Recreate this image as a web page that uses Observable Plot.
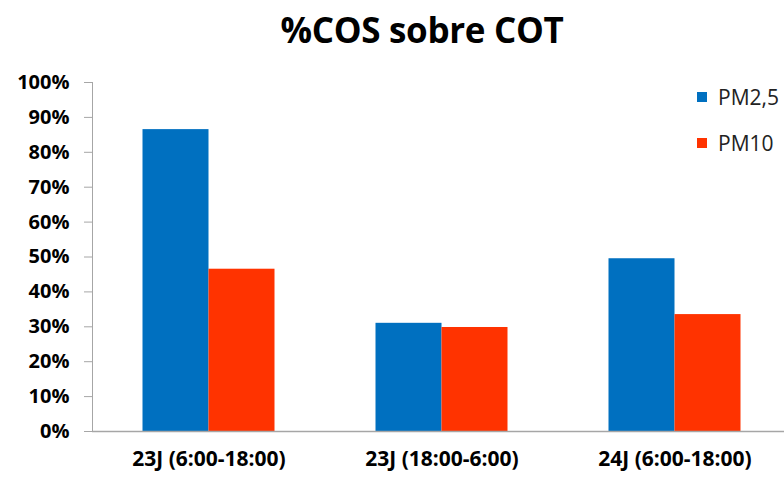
<!DOCTYPE html>
<html>
<head>
<meta charset="utf-8">
<script src="https://cdn.jsdelivr.net/npm/d3@7"></script>
<script src="https://cdn.jsdelivr.net/npm/@observablehq/plot@0.6"></script>
<style>
  body { margin: 0; background: #fff; font-family: "Open Sans", sans-serif; }
  #wrap { position: relative; width: 784px; height: 479px; overflow: hidden; }
  #title { height: 60px; box-sizing: border-box; padding-left: 60px; text-align: center;
           font-weight: bold; font-size: 35px; line-height: 60px; color: #000; letter-spacing: -0.3px; }
  .leg { position: absolute; left: 697px; display: flex; align-items: center; font-size: 21px; color: #222; }
  .sw { width: 10px; height: 10px; margin-right: 11px; }
</style>
</head>
<body>
<div id="wrap">
  <div id="title">%COS sobre COT</div>
  <div id="chart"></div>
  <div id="legend"></div>
</div>
<script>
const categories = ["23J (6:00-18:00)", "23J (18:00-6:00)", "24J (6:00-18:00)"];
const series = ["PM2,5", "PM10"];
const colors = ["#0070C0", "#FF3300"];
const pm25 = [0.865, 0.31, 0.495];
const pm10 = [0.465, 0.298, 0.335];
const yTicks = [0, 0.1, 0.2, 0.3, 0.4, 0.5, 0.6, 0.7, 0.8, 0.9, 1.0];

const d25 = categories.map((c, i) => ({cat: c, series: series[0], value: pm25[i]}));
const d10 = categories.map((c, i) => ({cat: c, series: series[1], value: pm10[i]}));

const chart = Plot.plot({
  width: 784,
  height: 419,
  marginTop: 22,
  marginBottom: 48,
  marginLeft: 92,
  marginRight: 0,
  style: {fontFamily: "'Open Sans', sans-serif", background: "#fff", overflow: "visible"},
  x: {domain: categories, range: [92, 791], padding: 0, label: null},
  y: {domain: [0, 1], label: null},
  color: {domain: series, range: colors},
  marks: [
    Plot.barY(d25, {x: "cat", y: "value", fill: "series", insetLeft: 50.5, insetRight: 116.5}),
    Plot.barY(d10, {x: "cat", y: "value", fill: "series", insetLeft: 116.5, insetRight: 50.5}),
    Plot.ruleY([0], {stroke: "#a6a6a6", strokeWidth: 1.5}),
    Plot.frame({anchor: "left", stroke: "#a6a6a6"}),
    Plot.axisY({ticks: yTicks, tickFormat: d3.format(".0%"), tickSize: 8, tickPadding: 15,
      stroke: "#a6a6a6", fill: "#000", fontSize: 20, fontWeight: "bold", label: null}),
    Plot.axisX({tickSize: 0, tickPadding: 20, fontSize: 21, fontWeight: "bold", fill: "#000", label: null})
  ]
});
document.getElementById("chart").appendChild(chart);

const legend = document.getElementById("legend");
const legTops = [83, 129];
series.forEach((s, i) => {
  const row = document.createElement("div");
  row.className = "leg";
  row.style.top = legTops[i] + "px";
  row.innerHTML = `<span class="sw" style="background:${colors[i]}"></span><span>${s}</span>`;
  legend.appendChild(row);
});
</script>
</body>
</html>
